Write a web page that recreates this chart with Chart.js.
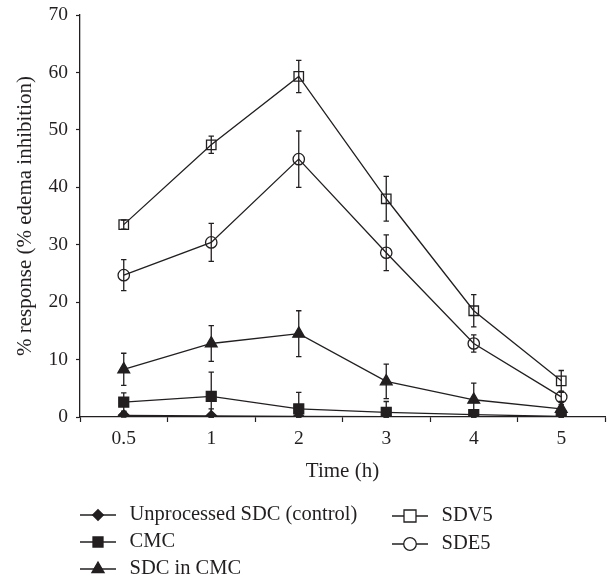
<!DOCTYPE html>
<html>
<head>
<meta charset="utf-8">
<script src="https://cdn.jsdelivr.net/npm/chart.js@4/dist/chart.umd.min.js"></script>
<style>
  body { margin: 0; background: #fff; }
  #wrap { width: 608px; height: 578px; position: relative; }
</style>
</head>
<body>
<div id="wrap"><canvas id="chart"></canvas></div>
<script>
// time points (h)
const timeLabels = ["0.5", "1", "2", "3", "4", "5"]
const yTicks = [0, 10, 20, 30, 40, 50, 60, 70]

const controlValues = [0.3, 0.2, 0.1, 0.05, 0.0, 0.0]
const controlErrors = [0.6, 1.2, 0.4, 0.3, 0.2, 0.1]
const cmcValues = [2.6, 3.6, 1.4, 0.8, 0.4, 0.1]
const cmcErrors = [1.6, 4.2, 2.9, 1.9, 0.8, 0.3]
const sdcCmcValues = [8.3, 12.8, 14.5, 6.2, 3.0, 1.4]
const sdcCmcErrors = [2.8, 3.1, 4.0, 3.0, 2.9, 0.8]
const sdv5Values = [33.5, 47.4, 59.3, 38.0, 18.5, 6.3]
const sdv5Errors = [0.8, 1.5, 2.8, 3.9, 2.8, 1.8]
const sde5Values = [24.7, 30.4, 44.9, 28.6, 12.8, 3.5]
const sde5Errors = [2.7, 3.3, 4.9, 3.1, 1.5, 0.8]

const ink = "#231f20"
const serif = "'Liberation Serif', 'DejaVu Serif', serif"

function series(label, values, errors, style, radius, legendRadius, filled) {
    return {
        label: label,
        data: values,
        errors: errors,
        borderColor: ink,
        borderWidth: 1.3,
        pointStyle: style,
        pointRadius: radius,
        pointHoverRadius: radius,
        pointBorderColor: ink,
        pointBorderWidth: 1.3,
        pointBackgroundColor: filled ? ink : "rgba(255,255,255,0)",
        legendRadius: legendRadius,
        filled: filled,
        tension: 0,
        fill: false,
    }
}

/**
 * Draw vertical error bars with caps on every point
 */
const errorBars = {
    id: "errorBars",
    afterDatasetsDraw(chart) {
        const ctx = chart.ctx
        const yScale = chart.scales.y
        ctx.save()
        ctx.strokeStyle = ink
        ctx.lineWidth = 1.3
        chart.data.datasets.forEach((ds, i) => {
            chart.getDatasetMeta(i).data.forEach((pt, j) => {
                const v = ds.data[j]
                const e = ds.errors[j]
                const top = yScale.getPixelForValue(v + e)
                const bottom = yScale.getPixelForValue(Math.max(v - e, yScale.min))
                ctx.beginPath()
                ctx.moveTo(pt.x, top)
                ctx.lineTo(pt.x, bottom)
                ctx.moveTo(pt.x - 2.7, top)
                ctx.lineTo(pt.x + 2.7, top)
                ctx.moveTo(pt.x - 2.7, bottom)
                ctx.lineTo(pt.x + 2.7, bottom)
                ctx.stroke()
            })
        })
        ctx.restore()
    }
}

function marker(ctx, style, x, y, r, filled) {
    ctx.beginPath()
    if (style === "rectRot") {
        ctx.moveTo(x, y - r); ctx.lineTo(x + r, y); ctx.lineTo(x, y + r); ctx.lineTo(x - r, y)
        ctx.closePath()
    } else if (style === "rect") {
        ctx.rect(x - r, y - r, 2 * r, 2 * r)
    } else if (style === "triangle") {
        ctx.moveTo(x, y - r)
        ctx.lineTo(x + r * 0.866, y + r * 0.5)
        ctx.lineTo(x - r * 0.866, y + r * 0.5)
        ctx.closePath()
    } else {
        ctx.arc(x, y, r, 0, Math.PI * 2)
    }
    ctx.fillStyle = filled ? ink : "#fff"
    ctx.fill()
    ctx.stroke()
}

/**
 * Legend below the chart: two columns, line with marker
 */
const bottomLegend = {
    id: "bottomLegend",
    afterDraw(chart) {
        const ctx = chart.ctx
        const slots = [
            [80, 515], [80, 542], [80, 569],
            [392, 516], [392, 544],
        ]
        ctx.save()
        ctx.strokeStyle = ink
        ctx.lineWidth = 1.3
        ctx.font = "20.5px " + serif
        ctx.textBaseline = "middle"
        chart.data.datasets.forEach((ds, i) => {
            const [x, y] = slots[i]
            ctx.beginPath()
            ctx.moveTo(x, y)
            ctx.lineTo(x + 36, y)
            ctx.stroke()
            marker(ctx, ds.pointStyle, x + 18, y, ds.legendRadius, ds.filled)
            ctx.fillStyle = ink
            ctx.fillText(ds.label, x + 49.5, y)
        })
        ctx.restore()
    }
}

new Chart(document.getElementById("chart"), {
    type: "line",
    data: {
        labels: timeLabels,
        datasets: [
            series("Unprocessed SDC (control)", controlValues, controlErrors, "rectRot", 5.3, 5.3, true),
            series("CMC", cmcValues, cmcErrors, "rect", 7, 5, true),
            series("SDC in CMC", sdcCmcValues, sdcCmcErrors, "triangle", 6.8, 7, true),
            series("SDV5", sdv5Values, sdv5Errors, "rect", 6.7, 6, false),
            series("SDE5", sde5Values, sde5Errors, "circle", 5.7, 6.3, false),
        ]
    },
    options: {
        responsive: true,
        maintainAspectRatio: false,
        animation: false,
        layout: { autoPadding: false, padding: { top: 15, right: 3, left: 0, bottom: 90 } },
        plugins: {
            legend: { display: false },
            tooltip: { enabled: false },
        },
        scales: {
            x: {
                offset: true,
                afterFit: (scale) => {
                    scale.height = 71
                    scale.paddingLeft = 0
                    scale.paddingRight = 0
                },
                grid: {
                    offset: true,
                    drawOnChartArea: false,
                    tickLength: 5,
                    color: ink,
                    tickWidth: 1.2,
                },
                border: { color: ink, width: 1.3 },
                ticks: { color: ink, font: { family: serif, size: 19.5 }, padding: 5 },
                title: {
                    display: true,
                    text: "Time (h)",
                    color: ink,
                    font: { family: serif, size: 21 },
                    padding: { top: 4, bottom: 4 },
                },
            },
            y: {
                min: 0,
                max: 70,
                afterFit: (scale) => {
                    scale.width = 80
                    scale.paddingTop = 0
                    scale.paddingBottom = 0
                },
                afterBuildTicks: (scale) => { scale.ticks = yTicks.map((v) => ({ value: v })) },
                grid: {
                    drawOnChartArea: false,
                    tickLength: 4,
                    color: ink,
                    tickWidth: 1.2,
                },
                border: { color: ink, width: 1.3 },
                ticks: { color: ink, font: { family: serif, size: 19.5 }, padding: 8 },
                title: {
                    display: true,
                    text: "% response (% edema inhibition)",
                    color: ink,
                    font: { family: serif, size: 21 },
                    padding: { top: 13, bottom: 0 },
                },
            },
        },
    },
    plugins: [errorBars, bottomLegend],
})
</script>
</body>
</html>
